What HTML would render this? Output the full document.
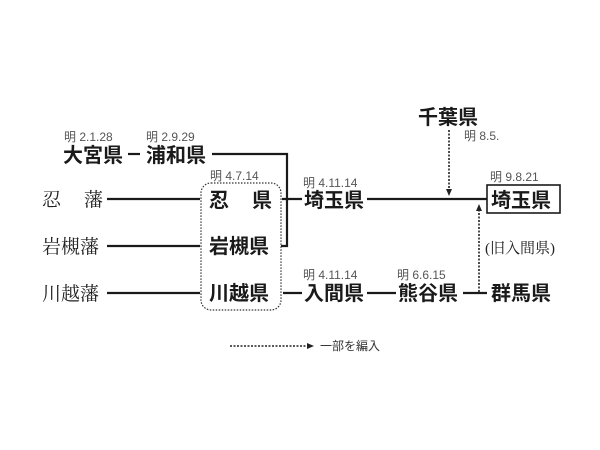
<!DOCTYPE html><html><head><meta charset="utf-8"><style>
body{margin:0;background:#fff}
</style></head><body>
<svg width="600" height="450" xmlns="http://www.w3.org/2000/svg" style="display:block">
<defs><marker id="a" markerUnits="userSpaceOnUse" markerWidth="7" markerHeight="7" refX="3" refY="3.5" orient="auto"><path d="M0,0.5L7,3.5L0,6.5z" fill="#222"/></marker></defs>
<rect width="600" height="450" fill="#fff"/>
<g font-family="Liberation Sans, Noto Sans CJK JP, sans-serif">
<g font-size="12" fill="#555">
<text x="64" y="141">明 2.1.28</text>
<text x="146" y="141">明 2.9.29</text>
<text x="210" y="180">明 4.7.14</text>
<text x="303" y="187">明 4.11.14</text>
<text x="303" y="279">明 4.11.14</text>
<text x="397" y="279">明 6.6.15</text>
<text x="464" y="140">明 8.5.</text>
<text x="490" y="181">明 9.8.21</text>
<text x="320" y="350" fill="#333">一部を編入</text>
</g>
<g font-size="20" font-weight="bold" fill="#1a1a1a">
<text x="63" y="162">大宮県</text>
<text x="146" y="162">浦和県</text>
<text x="209" y="207">忍</text><text x="252" y="207">県</text>
<text x="209" y="253">岩槻県</text>
<text x="209" y="300">川越県</text>
<text x="304" y="207">埼玉県</text>
<text x="418" y="124">千葉県</text>
<text x="491" y="207">埼玉県</text>
<text x="304" y="300">入間県</text>
<text x="398" y="300">熊谷県</text>
<text x="491" y="300">群馬県</text>
</g>
<g font-size="19" fill="#222" font-family="Liberation Serif, Noto Serif CJK SC, serif">
<text x="42" y="206">忍</text><text x="84" y="206">藩</text>
<text x="42" y="253">岩槻藩</text>
<text x="42" y="300">川越藩</text>
<text x="485" y="253" font-size="15">(旧入間県)</text>
</g>
</g>
<g stroke="#1a1a1a" stroke-width="2.2" fill="none">
<path d="M128,154H140"/>
<path d="M212,154H287V246H281"/>
<path d="M107,199H200M107,246H200M107,293H200"/>
<path d="M282,199H302M283,293H302"/>
<path d="M367,199H487"/>
<path d="M367,293H396M463,293H487"/>
<rect x="487" y="185" width="73" height="28" stroke-width="1.6"/>
</g>
<rect x="201" y="183" width="80" height="127" rx="10" fill="none" stroke="#333" stroke-width="1.2" stroke-dasharray="1.5,1.5"/>
<g stroke="#222" stroke-width="1.6" stroke-dasharray="2,1.5" fill="none">
<path d="M449,130V192" marker-end="url(#a)"/>
<path d="M479,292V208" marker-end="url(#a)"/>
<path d="M230,346H310" marker-end="url(#a)"/>
</g>
</svg>
</body></html>
